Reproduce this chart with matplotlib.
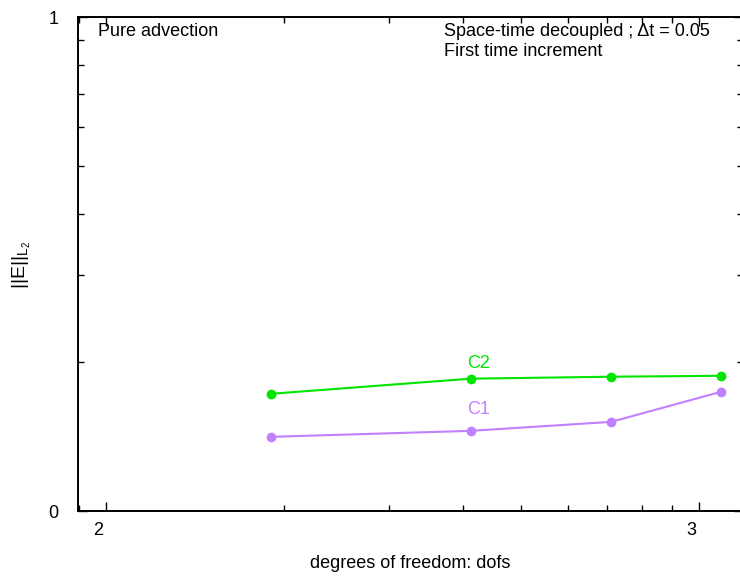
import matplotlib
matplotlib.use("Agg")
import matplotlib.pyplot as plt
from matplotlib.ticker import LogLocator, FuncFormatter, NullFormatter
from matplotlib.transforms import ScaledTranslation
import numpy as np

plt.rcParams["font.family"] = ["Liberation Sans", "DejaVu Sans"]
plt.rcParams["mathtext.fontset"] = "custom"
plt.rcParams["mathtext.rm"] = "Liberation Sans"

dofs = [190, 412, 710, 1087]
err_c1 = [1.413, 1.453, 1.515, 1.743]
err_c2 = [1.727, 1.853, 1.870, 1.878]

green = "#00e600"
purple = "#c080ff"
fs = 13

fig = plt.figure(figsize=(7.4, 5.76), dpi=100)
ax = fig.add_axes([78 / 740, 65 / 576, 665 / 740, 494 / 576])

ax.plot(dofs, err_c2, "-o", color=green, lw=1.5, ms=6, clip_on=False)
ax.plot(dofs, err_c1, "-o", color=purple, lw=1.5, ms=6, clip_on=False)

ax.set_xscale("log")
ax.set_yscale("log")
ax.set_xlim(89.8, 1184)
ax.set_ylim(1, 10)

ax.xaxis.set_major_locator(LogLocator(base=10, numticks=10))
ax.yaxis.set_major_locator(LogLocator(base=10, numticks=10))
ax.xaxis.set_minor_locator(LogLocator(base=10, subs=np.arange(2, 10), numticks=20))
ax.yaxis.set_minor_locator(LogLocator(base=10, subs=np.arange(2, 10), numticks=20))
expfmt = FuncFormatter(lambda v, p: "%d" % round(np.log10(v)))
ax.xaxis.set_major_formatter(expfmt)
ax.yaxis.set_major_formatter(expfmt)
ax.xaxis.set_minor_formatter(NullFormatter())
ax.yaxis.set_minor_formatter(NullFormatter())

ax.tick_params(which="both", direction="in", top=True, right=True, labelsize=fs, width=1)
ax.tick_params(which="major", length=6.5)
ax.tick_params(which="minor", length=4)
ax.tick_params(axis="x", pad=8)
ax.tick_params(axis="y", pad=14)
for lab in ax.get_xticklabels():
    lab.set_transform(lab.get_transform() + ScaledTranslation(-8 / 100, 0, fig.dpi_scale_trans))
for sp in ax.spines.values():
    sp.set_linewidth(1.4)

fig.text(410 / 740, 1 - 563 / 576, "degrees of freedom: dofs", ha="center", va="center", fontsize=fs)
fig.text(22 / 740, 1 - 265 / 576, r"$\mathregular{||E||_{L_2}}$", ha="center", va="center",
         rotation=90, fontsize=14)

fig.text(98 / 740, 1 - 32 / 576, "Pure advection", ha="left", va="center", fontsize=fs)
fig.text(444 / 740, 1 - 32 / 576, "Space-time decoupled ; Δt = 0.05", ha="left", va="center", fontsize=fs)
fig.text(444 / 740, 1 - 52 / 576, "First time increment", ha="left", va="center", fontsize=fs)
fig.text(467 / 740, 1 - 363 / 576, "C2", ha="left", va="center", fontsize=fs, color=green)
fig.text(467 / 740, 1 - 410 / 576, "C1", ha="left", va="center", fontsize=fs, color=purple)

fig.savefig("out.png", dpi=100)
